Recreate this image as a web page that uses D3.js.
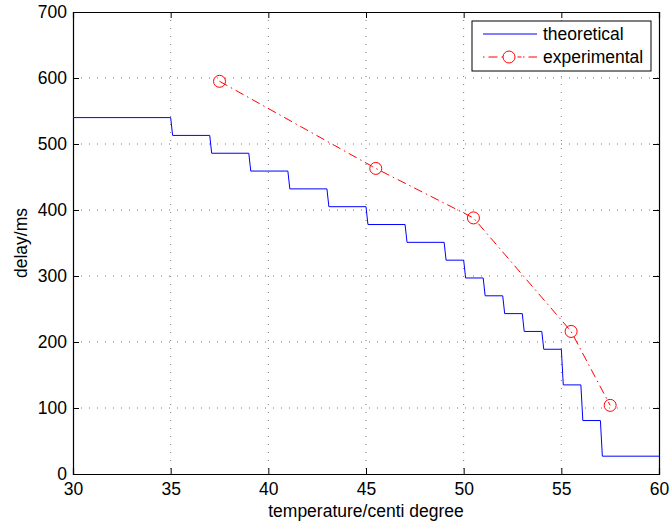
<!DOCTYPE html>
<html>
<head>
<meta charset="utf-8">
<script src="https://cdn.jsdelivr.net/npm/d3@7"></script>
<style>
  body { margin: 0; background: #fff; }
  text { font-family: "Liberation Sans", Arial, Helvetica, sans-serif; fill: #000; }
</style>
</head>
<body>
<svg id="chart" width="671" height="529"></svg>
<script>
// theoretical delay: step function, edges of each level (degree) and level (ms)
const stepEdges = [30, 35, 37, 39, 41, 43, 45, 47, 49, 50, 51, 52, 53, 54, 55, 56, 57, 60];
const stepLevels = [540, 513, 486, 459, 432, 405, 378, 351, 324, 297, 270, 243, 216, 189, 135, 81, 27];
const sampleStep = 0.1; // sampling of the original curve, gives the slanted risers

// experimental delay
const expTemps = [37.5, 45.5, 50.5, 55.5, 57.5];
const expDelays = [595, 463, 388, 216, 104];

const xTicks = [30, 35, 40, 45, 50, 55, 60];
const yTicks = [0, 100, 200, 300, 400, 500, 600, 700];

const svg = d3.select("#chart");
const margin = { left: 73, right: 12, top: 12, bottom: 55 };
const width = 671 - margin.left - margin.right;
const height = 529 - margin.top - margin.bottom;

const x = d3.scaleLinear().domain([30, 60]).range([0, width]);
const y = d3.scaleLinear().domain([0, 700]).range([height, 0]);

const g = svg.append("g").attr("transform", `translate(${margin.left},${margin.top})`);

// grid
g.append("g").selectAll("line").data(xTicks.slice(1, -1)).join("line")
    .attr("x1", d => x(d)).attr("x2", d => x(d))
    .attr("y1", 0).attr("y2", height)
    .attr("stroke", "#777").attr("stroke-width", 1)
    .attr("stroke-dasharray", "1,7");
g.append("g").selectAll("line").data(yTicks.slice(1, -1)).join("line")
    .attr("y1", d => y(d)).attr("y2", d => y(d))
    .attr("x1", 0).attr("x2", width)
    .attr("stroke", "#777").attr("stroke-width", 1)
    .attr("stroke-dasharray", "1,7");

// axes (ticks inside, box on)
const fontSize = "17.5px";
const xAxis = g.append("g").attr("transform", `translate(0,${height})`)
    .call(d3.axisBottom(x).tickValues(xTicks).tickSize(-6).tickPadding(9));
const yAxis = g.append("g")
    .call(d3.axisLeft(y).tickValues(yTicks).tickSize(-6).tickPadding(6));
g.append("g").call(d3.axisTop(x).tickValues(xTicks).tickSize(-6).tickFormat(""));
g.append("g").attr("transform", `translate(${width},0)`)
    .call(d3.axisRight(y).tickValues(yTicks).tickSize(-6).tickFormat(""));
g.selectAll(".domain").attr("stroke", "#000").attr("stroke-width", 1.2);
g.selectAll(".tick line").attr("stroke", "#000");
xAxis.selectAll("text").style("font-size", fontSize).attr("dy", "0.71em");
yAxis.selectAll("text").style("font-size", fontSize);

// theoretical step line
const stepPoints = [];
stepLevels.forEach((v, i) => {
  stepPoints.push([i === 0 ? stepEdges[i] : stepEdges[i] + sampleStep, v]);
  stepPoints.push([stepEdges[i + 1], v]);
});
const line = d3.line().x(d => x(d[0])).y(d => y(d[1]));
g.append("path").datum(stepPoints)
    .attr("d", line)
    .attr("fill", "none").attr("stroke", "#0000ff").attr("stroke-width", 1);

// experimental
const expPoints = expTemps.map((t, i) => [t, expDelays[i]]);
g.append("path").datum(expPoints)
    .attr("d", line)
    .attr("fill", "none").attr("stroke", "#ff0000").attr("stroke-width", 1)
    .attr("stroke-dasharray", "9,4,1.5,4");
g.selectAll(".marker").data(expPoints).join("circle")
    .attr("class", "marker")
    .attr("cx", d => x(d[0])).attr("cy", d => y(d[1]))
    .attr("r", 6)
    .attr("fill", "none").attr("stroke", "#ff0000").attr("stroke-width", 1);

// axis labels
svg.append("text")
    .attr("x", margin.left + width / 2).attr("y", 517)
    .attr("text-anchor", "middle").style("font-size", "17.5px")
    .text("temperature/centi degree");
svg.append("text")
    .attr("transform", `translate(27,${margin.top + height / 2}) rotate(-90)`)
    .attr("text-anchor", "middle").style("font-size", "17.5px")
    .text("delay/ms");

// legend
const legend = svg.append("g").attr("transform", "translate(472,21)");
legend.append("rect").attr("width", 179).attr("height", 50)
    .attr("fill", "#fff").attr("stroke", "#000").attr("stroke-width", 1);
legend.append("line").attr("x1", 11).attr("x2", 65).attr("y1", 13).attr("y2", 13)
    .attr("stroke", "#0000ff");
legend.append("text").attr("x", 71).attr("y", 13).attr("dy", "0.35em")
    .style("font-size", "17.5px").text("theoretical");
legend.append("line").attr("x1", 11).attr("x2", 65).attr("y1", 36).attr("y2", 36)
    .attr("stroke", "#ff0000").attr("stroke-dasharray", "1.5,4,9,4,1.5");
legend.append("circle").attr("cx", 37).attr("cy", 36).attr("r", 6)
    .attr("fill", "#fff").attr("stroke", "#ff0000");
legend.append("text").attr("x", 71).attr("y", 36).attr("dy", "0.35em")
    .style("font-size", "17.5px").text("experimental");
</script>
</body>
</html>
